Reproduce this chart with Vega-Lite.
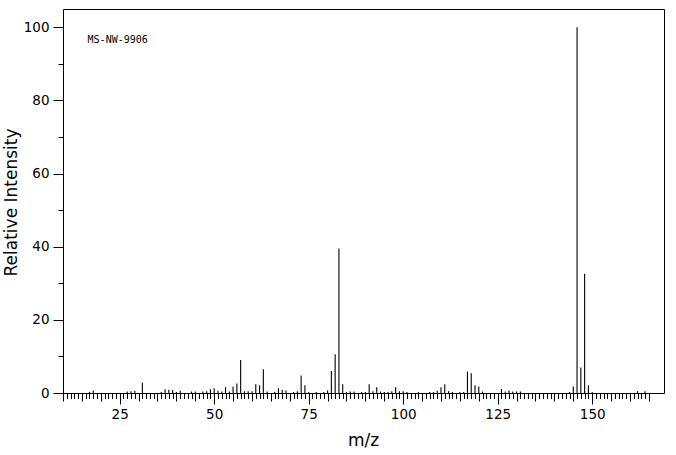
{
  "$schema": "https://vega.github.io/schema/vega-lite/v6.json",
  "width": 601,
  "height": 384,
  "autosize": {"type": "none"},
  "padding": {"left": 63, "top": 9, "right": 12, "bottom": 62},
  "background": "white",
  "config": {
    "view": {"stroke": "black", "strokeWidth": 1},
    "axis": {"domain": false, "grid": false, "tickColor": "black", "tickWidth": 1, "labelColor": "black", "titleColor": "black", "labelFont": "DejaVu Sans", "titleFont": "DejaVu Sans", "labelFontSize": 13.5, "titleFontSize": 17, "titleFontWeight": "normal"}
  },
  "datasets": {
    "peaks": [
      {"mz": 17, "ri": 0.3}, {"mz": 18, "ri": 0.7}, {"mz": 27, "ri": 0.4}, {"mz": 28, "ri": 0.5}, {"mz": 29, "ri": 0.6},
      {"mz": 31, "ri": 2.8}, {"mz": 36, "ri": 0.3}, {"mz": 37, "ri": 1.0}, {"mz": 38, "ri": 0.9}, {"mz": 39, "ri": 0.8},
      {"mz": 40, "ri": 0.3}, {"mz": 41, "ri": 0.6}, {"mz": 44, "ri": 0.4}, {"mz": 45, "ri": 0.4}, {"mz": 47, "ri": 0.4},
      {"mz": 48, "ri": 0.5}, {"mz": 49, "ri": 1.0}, {"mz": 50, "ri": 1.3}, {"mz": 51, "ri": 0.6}, {"mz": 52, "ri": 0.4},
      {"mz": 53, "ri": 1.6}, {"mz": 54, "ri": 0.4}, {"mz": 55, "ri": 1.8}, {"mz": 56, "ri": 2.6}, {"mz": 57, "ri": 9.0},
      {"mz": 58, "ri": 0.5}, {"mz": 59, "ri": 0.5}, {"mz": 60, "ri": 0.5}, {"mz": 61, "ri": 2.4}, {"mz": 62, "ri": 2.1},
      {"mz": 63, "ri": 6.5}, {"mz": 64, "ri": 0.4}, {"mz": 66, "ri": 0.3}, {"mz": 67, "ri": 1.3}, {"mz": 68, "ri": 0.8},
      {"mz": 69, "ri": 0.7}, {"mz": 71, "ri": 0.3}, {"mz": 72, "ri": 0.5}, {"mz": 73, "ri": 4.8}, {"mz": 74, "ri": 2.1},
      {"mz": 75, "ri": 0.3}, {"mz": 77, "ri": 0.3}, {"mz": 79, "ri": 0.3}, {"mz": 80, "ri": 0.7}, {"mz": 81, "ri": 6.0},
      {"mz": 82, "ri": 10.6}, {"mz": 83, "ri": 39.5}, {"mz": 84, "ri": 2.4}, {"mz": 85, "ri": 0.3}, {"mz": 86, "ri": 0.4},
      {"mz": 87, "ri": 0.4}, {"mz": 89, "ri": 0.3}, {"mz": 90, "ri": 0.3}, {"mz": 91, "ri": 2.4}, {"mz": 92, "ri": 0.5},
      {"mz": 93, "ri": 1.6}, {"mz": 94, "ri": 0.4}, {"mz": 95, "ri": 0.3}, {"mz": 96, "ri": 0.3}, {"mz": 97, "ri": 0.5},
      {"mz": 98, "ri": 1.6}, {"mz": 99, "ri": 0.5}, {"mz": 100, "ri": 0.5}, {"mz": 101, "ri": 0.3}, {"mz": 104, "ri": 0.3},
      {"mz": 107, "ri": 0.3}, {"mz": 108, "ri": 0.3}, {"mz": 109, "ri": 0.6}, {"mz": 110, "ri": 1.6}, {"mz": 111, "ri": 2.4},
      {"mz": 112, "ri": 0.5}, {"mz": 113, "ri": 0.3}, {"mz": 115, "ri": 0.3}, {"mz": 116, "ri": 0.3}, {"mz": 117, "ri": 5.9},
      {"mz": 118, "ri": 5.4}, {"mz": 119, "ri": 2.1}, {"mz": 120, "ri": 1.8}, {"mz": 121, "ri": 0.4}, {"mz": 126, "ri": 1.1},
      {"mz": 127, "ri": 0.4}, {"mz": 128, "ri": 0.7}, {"mz": 129, "ri": 0.4}, {"mz": 130, "ri": 0.4}, {"mz": 131, "ri": 0.4},
      {"mz": 144, "ri": 0.3}, {"mz": 145, "ri": 1.8}, {"mz": 146, "ri": 100}, {"mz": 147, "ri": 7.0}, {"mz": 148, "ri": 32.6},
      {"mz": 149, "ri": 2.1}, {"mz": 150, "ri": 0.3}, {"mz": 162, "ri": 0.5}, {"mz": 164, "ri": 0.5}
    ],
    "note": [{"mz": 16.5, "ri": 96.5, "label": "MS-NW-9906"}]
  },
  "resolve": {"axis": {"x": "independent", "y": "independent"}},
  "layer": [
    {
      "data": {"name": "peaks"},
      "mark": {"type": "rule", "color": "black", "strokeWidth": 1.1},
      "encoding": {
        "x": {"field": "mz", "type": "quantitative", "scale": {"domain": [10, 169], "nice": false, "zero": false},
          "axis": {"orient": "bottom", "values": [25, 50, 75, 100, 125, 150], "tickSize": 11, "labelPadding": 3, "title": "m/z", "titleX": 300, "titleY": 47, "titleBaseline": "middle", "titleAlign": "center"}},
        "y": {"field": "ri", "type": "quantitative", "scale": {"domain": [0, 105], "nice": false},
          "axis": {"orient": "left", "values": [0, 20, 40, 60, 80, 100], "tickSize": 10, "labelPadding": 4, "title": "Relative Intensity", "titleX": -52, "titleY": 193, "titleAngle": -90, "titleAlign": "center", "titleBaseline": "middle"}},
        "y2": {"datum": 0}
      }
    },
    {
      "data": {"name": "peaks"},
      "mark": {"type": "rule", "opacity": 0},
      "encoding": {
        "x": {"field": "mz", "type": "quantitative", "scale": {"domain": [10, 169], "nice": false, "zero": false},
          "axis": {"orient": "bottom", "values": [10, 15, 20, 25, 30, 35, 40, 45, 50, 55, 60, 65, 70, 75, 80, 85, 90, 95, 100, 105, 110, 115, 120, 125, 130, 135, 140, 145, 150, 155, 160, 165], "tickSize": 8, "labels": false, "title": null}},
        "y": {"field": "ri", "type": "quantitative", "scale": {"domain": [0, 105], "nice": false},
          "axis": {"orient": "left", "values": [10, 30, 50, 70, 90], "tickSize": 5, "labels": false, "title": null}},
        "y2": {"datum": 0}
      }
    },
    {
      "data": {"name": "peaks"},
      "mark": {"type": "rule", "opacity": 0},
      "encoding": {
        "x": {"field": "mz", "type": "quantitative", "scale": {"domain": [10, 169], "nice": false, "zero": false},
          "axis": {"orient": "bottom", "values": [10,11,12,13,14,15,16,17,18,19,20,21,22,23,24,25,26,27,28,29,30,31,32,33,34,35,36,37,38,39,40,41,42,43,44,45,46,47,48,49,50,51,52,53,54,55,56,57,58,59,60,61,62,63,64,65,66,67,68,69,70,71,72,73,74,75,76,77,78,79,80,81,82,83,84,85,86,87,88,89,90,91,92,93,94,95,96,97,98,99,100,101,102,103,104,105,106,107,108,109,110,111,112,113,114,115,116,117,118,119,120,121,122,123,124,125,126,127,128,129,130,131,132,133,134,135,136,137,138,139,140,141,142,143,144,145,146,147,148,149,150,151,152,153,154,155,156,157,158,159,160,161,162,163,164,165], "tickSize": 5.5, "labels": false, "title": null}}
      }
    },
    {
      "data": {"name": "note"},
      "mark": {"type": "text", "align": "left", "baseline": "middle", "font": "DejaVu Sans Mono", "fontSize": 10, "color": "black"},
      "encoding": {
        "x": {"field": "mz", "type": "quantitative", "scale": {"domain": [10, 169], "nice": false, "zero": false}, "axis": null},
        "y": {"field": "ri", "type": "quantitative", "scale": {"domain": [0, 105], "nice": false}, "axis": null},
        "text": {"field": "label"}
      }
    }
  ]
}
